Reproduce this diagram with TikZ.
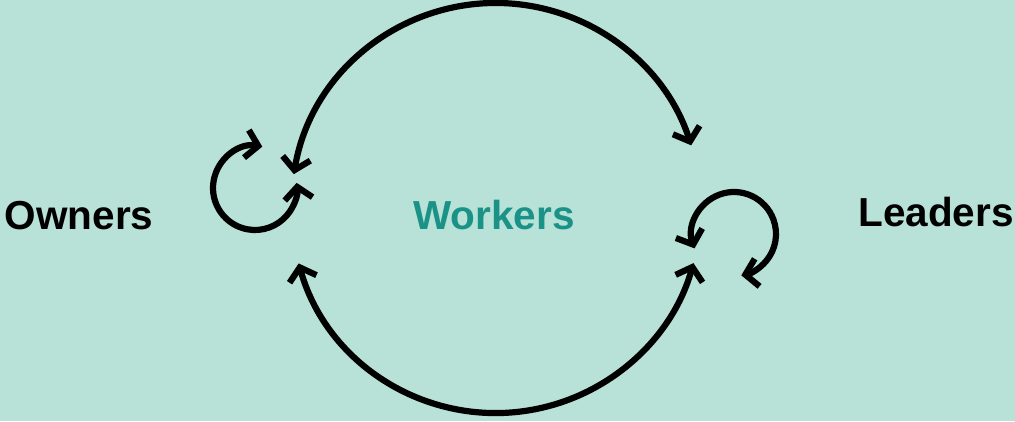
\documentclass[tikz,border=0pt]{standalone}
\usepackage{fontspec}
\setmainfont{Liberation Sans}
\usetikzlibrary{arrows.meta,calc}
\definecolor{bgmint}{HTML}{B8E2D7}
\definecolor{teal}{HTML}{1A9287}
\tikzset{
  lbl/.style={font=\bfseries\fontsize{40.5}{40.5}\selectfont, inner sep=0pt, anchor=base},
  conn/.style={line width=6.2pt, {Straight Barb[length=12pt,width=28pt]}-{Straight Barb[length=12pt,width=28pt]}}
}
\begin{document}
\begin{tikzpicture}[x=1pt,y=1pt]
\fill[bgmint] (0,0) rectangle (1015,421);
\useasboundingbox (0,0) rectangle (1015,421);
\node[lbl] (owners) at (79,191) {Owners};
\node[lbl, text=teal] (workers) at (494,192) {Workers};
\node[lbl] (leaders) at (936,194) {Leaders};
\coordinate (cbig) at (496,213);
\coordinate (cown) at (255,233);
\coordinate (clead) at (734,187);
\draw[conn] ($(cbig)+(170.5:205)$) arc[start angle=170.5, end angle=17.8, radius=205];
\draw[conn] ($(cbig)+(195.7:205)$) arc[start angle=195.7, end angle=344.4, radius=205];
\draw[conn] ($(cown)+(80:42)$) arc[start angle=80, end angle=367, radius=42];
\draw[conn] ($(clead)+(200:42)$) arc[start angle=200, end angle=-80, radius=42];
\end{tikzpicture}
\end{document}
